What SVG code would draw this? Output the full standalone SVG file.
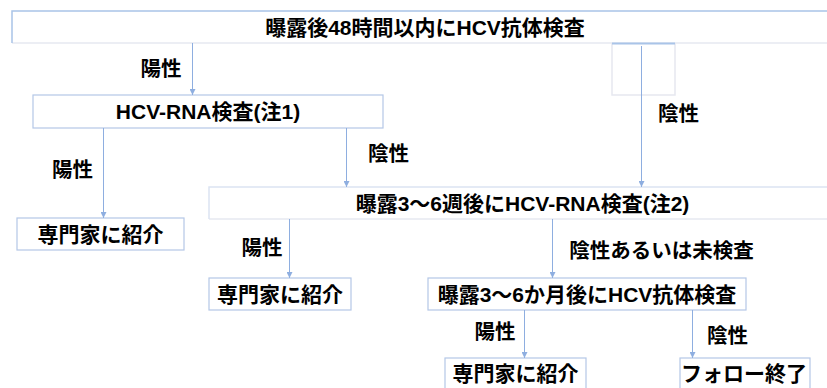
<svg xmlns="http://www.w3.org/2000/svg" width="827" height="388" viewBox="0 0 827 388">
<style>
text{font-family:"Liberation Sans","Noto Sans CJK JP",sans-serif;font-weight:bold;fill:#000;}
.t{font-size:21px;text-anchor:middle;}
.l{font-size:20.5px;text-anchor:middle;}
.bx{fill:#fff;stroke:#b4c7e7;stroke-width:1.2;}
.gr{stroke:#e6e8f0;stroke-width:1.5;fill:none;}
.bl{stroke:#a9c4e8;stroke-width:1.5;fill:none;}
.c{stroke:#8eaee0;stroke-width:1;fill:none;marker-end:url(#a);}
</style>
<defs>
<marker id="a" viewBox="0 0 6 6" refX="6" refY="3" markerWidth="6" markerHeight="6" markerUnits="userSpaceOnUse" orient="auto">
<path d="M0,0 L6,3 L0,6 Z" fill="#8eaee0"/>
</marker>
</defs>
<rect width="827" height="388" fill="#fff"/>
<g id="n1">
<path class="gr" d="M12,43 H827"/>
<path class="bl" d="M12,43 V11 H827"/>
<text class="t" x="425" y="35">曝露後48時間以内にHCV抗体検査</text>
</g>
<g id="n0">
<path class="gr" d="M612,43 V95 H675 V43"/>
<path d="M612,43.5 H675" stroke="#a9c4e8" stroke-width="2"/>
</g>
<g id="n2">
<rect class="bx" x="33" y="95" width="350" height="33"/>
<text class="t" x="208" y="119">HCV-RNA検査(注1)</text>
</g>
<g id="n3">
<rect class="bx" x="17" y="218" width="167" height="32"/>
<text class="t" x="100.5" y="242">専門家に紹介</text>
</g>
<g id="n4">
<path class="gr" d="M209,219 H827"/>
<path d="M827,187 H209 V219" stroke="#dbe4f2" stroke-width="1.5" fill="none"/>
<text class="t" x="522.5" y="211">曝露3〜6週後にHCV-RNA検査(注2)</text>
</g>
<g id="n5">
<rect class="bx" x="209" y="278" width="142" height="32"/>
<text class="t" x="280" y="302">専門家に紹介</text>
</g>
<g id="n6">
<rect class="bx" x="428" y="278" width="318" height="32"/>
<text class="t" x="587" y="302">曝露3〜6か月後にHCV抗体検査</text>
</g>
<g id="n7">
<rect class="bx" x="445" y="358" width="141" height="40"/>
<text class="t" x="515.5" y="381">専門家に紹介</text>
</g>
<g id="n8">
<rect class="bx" x="680" y="358" width="130" height="40"/>
<text class="t" x="744" y="381">フォロー終了</text>
</g>
<g id="connectors">
<path class="c" d="M192.5,43 V95"/>
<path class="c" d="M103.5,128 V218"/>
<path class="c" d="M346.5,128 V187"/>
<path class="c" d="M641.5,46 V187"/>
<path class="c" d="M289.5,219 V278"/>
<path class="c" d="M552.5,219 V278"/>
<path class="c" d="M524.5,310 V358"/>
<path class="c" d="M692.5,310 V358"/>
</g>
<g id="labels">
<text class="l" x="161" y="76">陽性</text>
<text class="l" x="678.5" y="121">陰性</text>
<text class="l" x="72.5" y="177">陽性</text>
<text class="l" x="388.5" y="161">陰性</text>
<text class="l" x="262" y="255">陽性</text>
<text class="l" x="661.5" y="258">陰性あるいは未検査</text>
<text class="l" x="495" y="339">陽性</text>
<text class="l" x="727.5" y="343">陰性</text>
</g>
</svg>
